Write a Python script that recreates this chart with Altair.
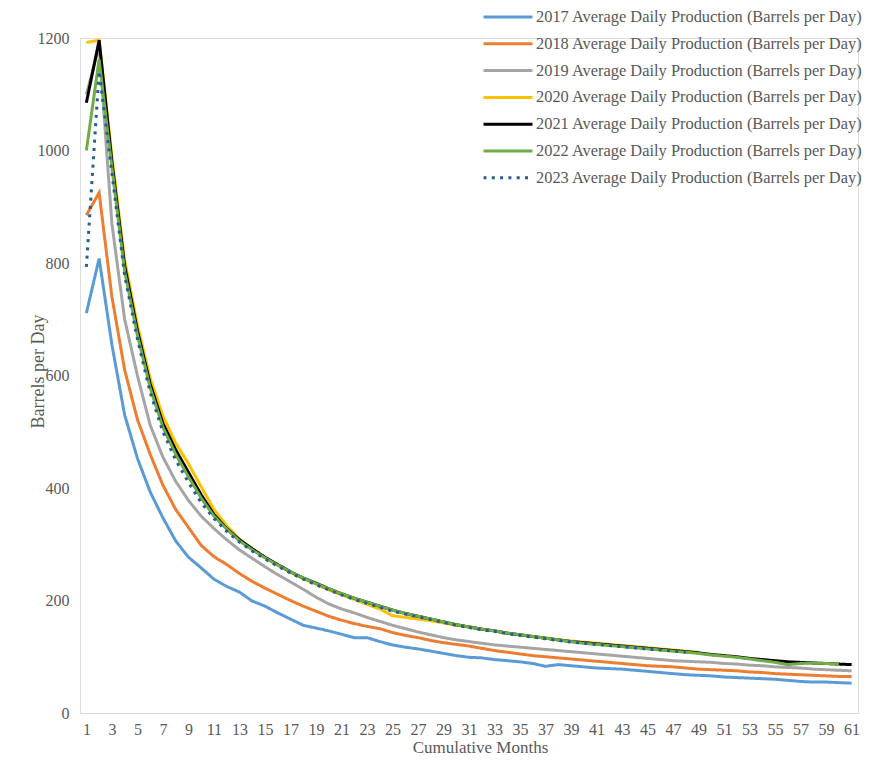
import altair as alt
import pandas as pd

months_ticks = list(range(1, 62, 2))
y_ticks = [0, 200, 400, 600, 800, 1000, 1200]

series_names = [
    "2017 Average Daily Production (Barrels per Day)",
    "2018 Average Daily Production (Barrels per Day)",
    "2019 Average Daily Production (Barrels per Day)",
    "2020 Average Daily Production (Barrels per Day)",
    "2021 Average Daily Production (Barrels per Day)",
    "2022 Average Daily Production (Barrels per Day)",
    "2023 Average Daily Production (Barrels per Day)",
]
colors = ["#5B9BD5", "#ED7D31", "#A5A5A5", "#FFC000", "#000000", "#70AD47", "#255E91"]
dashes = [[1, 0], [1, 0], [1, 0], [1, 0], [1, 0], [1, 0], [3, 5.3]]

v2017 = [711, 808, 655, 530, 453, 393, 347, 306, 277, 258, 238, 225, 215, 199, 190, 178, 167, 156, 151, 146,
         140, 134, 134, 127, 121, 117, 114, 110, 106, 102, 99, 98, 95, 93, 91, 88, 83, 86, 84, 82,
         80, 79, 78, 76, 74, 72, 70, 68, 67, 66, 64, 63, 62, 61, 60, 58, 56, 55, 55, 54, 53]
v2018 = [885, 925, 740, 610, 522, 460, 405, 362, 330, 298, 278, 264, 248, 234, 222, 211, 200, 190, 181, 172,
         165, 159, 154, 150, 143, 138, 134, 129, 125, 122, 119, 115, 111, 108, 105, 102, 100, 98, 96, 94,
         92, 90, 88, 86, 84, 83, 82, 80, 78, 77, 76, 75, 73, 72, 70, 69, 68, 67, 66, 65, 65]
v2019 = [1100, 1185, 870, 700, 600, 512, 455, 412, 378, 350, 328, 308, 290, 275, 260, 246, 233, 220, 206, 194,
         185, 178, 170, 163, 156, 150, 144, 139, 134, 130, 127, 124, 121, 119, 117, 115, 113, 111, 109, 107,
         105, 103, 101, 99, 97, 95, 93, 92, 91, 90, 88, 87, 85, 84, 82, 81, 80, 78, 77, 76, 75]
v2020 = [1192, 1196, 990, 805, 690, 595, 528, 480, 443, 402, 362, 333, 309, 292, 277, 263, 250, 239, 229, 219,
         210, 202, 193, 185, 173, 170, 167, 164, 160, 156, 153, 149, 146, 142, 139, 136, 133, 130, 128, 126,
         124, 122, 120, 118, 116, 114, 112, 110, 108]
v2021 = [1085, 1196, 980, 795, 680, 585, 515, 468, 428, 388, 353, 328, 308, 292, 277, 264, 251, 240, 231, 221,
         212, 204, 197, 190, 183, 177, 172, 167, 162, 157, 153, 149, 146, 142, 139, 136, 133, 130, 127, 125,
         123, 121, 119, 117, 115, 113, 111, 109, 107, 104, 102, 100, 97, 95, 93, 91, 90, 89, 88, 87, 86]
v2022 = [1000, 1162, 970, 785, 672, 578, 508, 460, 420, 382, 350, 327, 306, 290, 276, 263, 251, 240, 230, 221,
         212, 204, 197, 190, 183, 177, 172, 167, 162, 157, 153, 149, 146, 142, 139, 136, 133, 130, 127, 124,
         122, 120, 118, 116, 114, 112, 110, 108, 106, 103, 101, 99, 96, 93, 90, 86, 88, 89, 88, 87]
v2023 = [793, 1141, 960, 778, 665, 570, 500, 450, 410, 374, 346, 323, 304, 288, 274, 261, 249, 238, 228, 219,
         210, 202, 195, 188, 181, 176, 171, 166, 161, 156, 152, 148, 145, 141, 138, 135, 132, 129, 126, 124,
         122, 120, 118, 116, 114, 112, 110, 108]

all_values = [v2017, v2018, v2019, v2020, v2021, v2022, v2023]

rows = []
for order, (name, vals) in enumerate(zip(series_names, all_values)):
    for i, v in enumerate(vals):
        rows.append({"series": name, "order": order, "month": i + 1, "value": v})
df = pd.DataFrame(rows)

FONT = "Liberation Serif"
GRAY = "#595959"

legend = alt.Legend(
    title=None,
    orient="none",
    legendX=402,
    legendY=-30,
    symbolType="stroke",
    symbolSize=2400,
    symbolStrokeWidth=3,
    clipHeight=18,
    rowPadding=8.8,
    labelOffset=2,
    labelFont=FONT,
    labelFontSize=16.4,
    labelColor=GRAY,
    labelLimit=0,
    padding=0,
)

chart = alt.Chart(df).mark_line(strokeWidth=3).encode(
    x=alt.X(
        "month:Q",
        scale=alt.Scale(domain=[0.5, 61.5], nice=False, zero=False),
        axis=alt.Axis(
            values=months_ticks,
            format="d",
            title="Cumulative Months",
            grid=False,
            ticks=False,
            tickSize=0,
            labelPadding=8,
            labelFont=FONT,
            labelFontSize=16,
            labelColor=GRAY,
            labelFlush=False,
            labelOverlap=False,
            domainColor="#D9D9D9",
            domainWidth=1,
            titleFont=FONT,
            titleFontSize=17,
            titleFontWeight="normal",
            titleColor=GRAY,
            titleX=400,
            titleY=34,
            titleBaseline="middle",
            titleAlign="center",
        ),
    ),
    y=alt.Y(
        "value:Q",
        scale=alt.Scale(domain=[0, 1200], nice=False),
        axis=alt.Axis(
            values=y_ticks,
            format="d",
            title="Barrels per Day",
            grid=False,
            ticks=False,
            tickSize=0,
            domain=False,
            labelPadding=11,
            labelFont=FONT,
            labelFontSize=16,
            labelColor=GRAY,
            titleFont=FONT,
            titleFontSize=18,
            titleFontWeight="normal",
            titleColor=GRAY,
            titleAngle=270,
            titleX=-42,
            titleY=333,
            titleBaseline="middle",
            titleAlign="center",
        ),
    ),
    color=alt.Color("series:N", scale=alt.Scale(domain=series_names, range=colors), legend=legend),
    strokeDash=alt.StrokeDash("series:N", scale=alt.Scale(domain=series_names, range=dashes), legend=legend),
    order=alt.Order("order:Q"),
).properties(
    width=778,
    height=675,
    autosize=alt.AutoSizeParams(type="none"),
    padding={"left": 72, "top": 30, "right": 10, "bottom": 43},
).configure_view(stroke=None).configure(background="white")

chart.save("out.html", embed_options={"renderer": "svg", "actions": False})
